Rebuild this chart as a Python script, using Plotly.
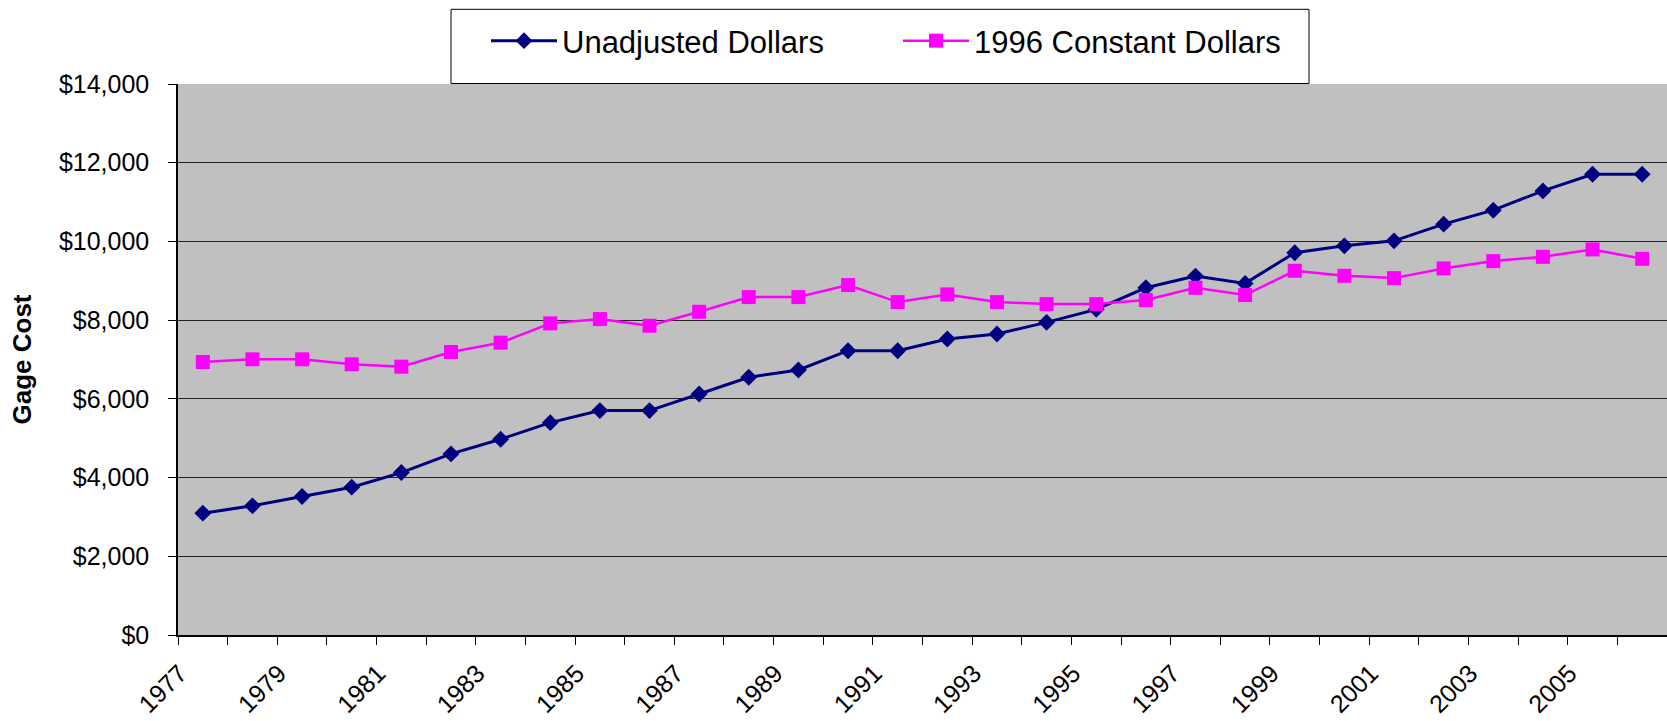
import plotly.graph_objects as go

years = [str(y) for y in range(1977, 2007)]
unadjusted = [3096, 3282, 3518, 3756, 4127, 4601, 4974, 5396, 5701, 5701,
              6124, 6548, 6733, 7223, 7223, 7520, 7647, 7944, 8274, 8822,
              9119, 8934, 9711, 9888, 10015, 10439, 10794, 11284, 11708, 11708]
constant_1996 = [6937, 7005, 7005, 6878, 6818, 7190, 7427, 7918, 8027, 7858,
                 8213, 8586, 8586, 8891, 8459, 8654, 8459, 8408, 8408, 8510,
                 8822, 8637, 9254, 9127, 9068, 9314, 9500, 9609, 9797, 9558]
label_years = years[::2]
y_ticks = [0, 2000, 4000, 6000, 8000, 10000, 12000, 14000]
y_tick_text = ["$" + format(v, ",d") for v in y_ticks]

W, H = 1667, 721
ML, MR, MT, MB = 178, 0, 84, 86
PW, PH = W - ML - MR, H - MT - MB

idx = list(range(len(years)))
FONT = "Liberation Sans, Arial, sans-serif"

fig = go.Figure()
fig.add_trace(go.Scatter(
    x=idx, y=unadjusted, name="Unadjusted Dollars", mode="lines+markers",
    line=dict(color="#000080", width=3),
    marker=dict(symbol="diamond", size=13, color="#000080"),
))
fig.add_trace(go.Scatter(
    x=idx, y=constant_1996, name="1996 Constant Dollars", mode="lines+markers",
    line=dict(color="#FF00FF", width=2.5),
    marker=dict(symbol="square", size=14, color="#FF00FF"),
))

def px_x(p):
    return (p - ML) / PW

def px_y(p):
    return (H - MB - p) / PH

fig.add_shape(type="rect", xref="paper", yref="paper",
              x0=px_x(451), x1=px_x(1309), y0=px_y(83.5), y1=px_y(9.3),
              line=dict(color="black", width=1), fillcolor="white", layer="below")

fig.update_layout(
    width=W, height=H,
    margin=dict(l=ML, r=MR, t=MT, b=MB, pad=0),
    paper_bgcolor="white", plot_bgcolor="#C0C0C0",
    font=dict(family=FONT, color="black", size=25),
    legend=dict(orientation="h", x=px_x(486), xanchor="left",
                y=px_y(41), yanchor="middle",
                bgcolor="rgba(0,0,0,0)", borderwidth=0,
                font=dict(size=31, family=FONT), entrywidth=331,
                itemwidth=66, itemsizing="trace"),
    showlegend=True,
)
fig.update_xaxes(
    range=[-0.5, len(years) - 0.5],
    tickmode="array", tickvals=idx[::2], ticktext=label_years,
    tickangle=-45, ticks="", showgrid=False, zeroline=False,
    showline=True, linecolor="black", linewidth=1.5,
    tickfont=dict(size=25, family=FONT),
    ticklabelstandoff=12, ticklabelshift=-23,
    minor=dict(ticks="outside", ticklen=8, tickcolor="black", tickwidth=1,
               tickmode="linear", tick0=-0.5, dtick=1, showgrid=False),
)
fig.update_yaxes(
    range=[0, 14000], tickmode="array", tickvals=y_ticks, ticktext=y_tick_text,
    ticks="outside", ticklen=8, tickcolor="black",
    showgrid=True, gridcolor="#222222", gridwidth=1,
    zeroline=False, showline=True, linecolor="black", linewidth=1.5,
    tickfont=dict(size=25, family=FONT), ticklabelstandoff=14,
    title=dict(text="<b>Gage Cost</b>", font=dict(size=26, family=FONT), standoff=20),
    automargin=False,
)
fig.write_html("out.html", config={"displayModeBar": False},
               post_script="document.body.style.margin='0';")
